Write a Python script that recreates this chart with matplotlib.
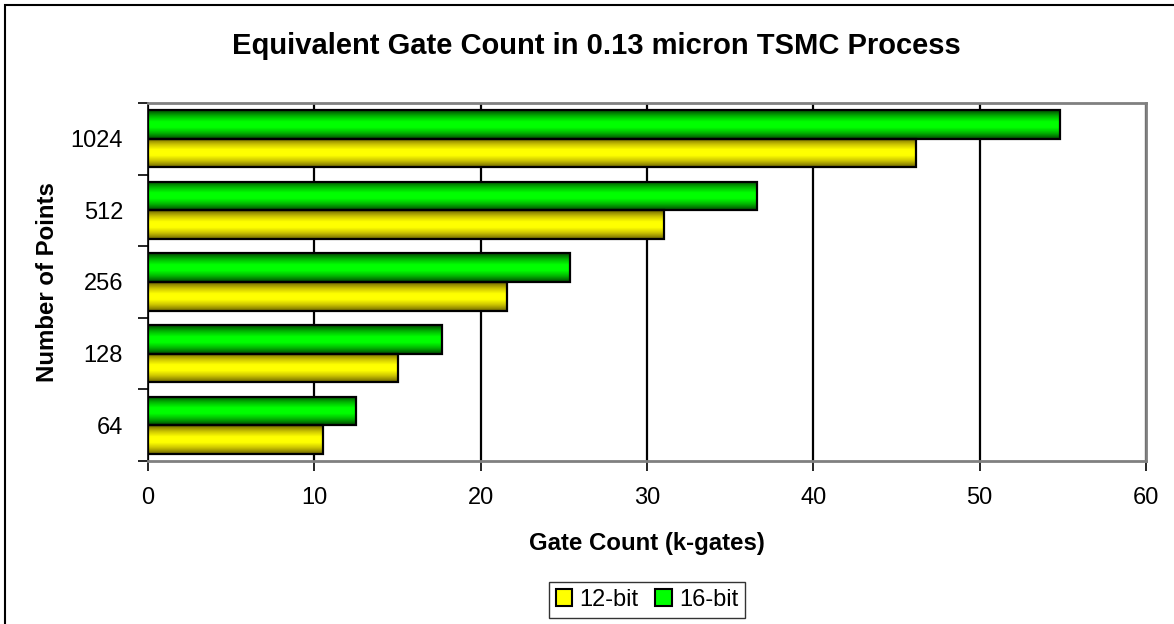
import numpy as np
import matplotlib
matplotlib.use('Agg')
import matplotlib.pyplot as plt
from matplotlib.colors import LinearSegmentedColormap
from matplotlib.patches import Rectangle, Patch

plt.rcParams['font.family'] = ['Liberation Sans', 'DejaVu Sans']

# data
categories = ['64', '128', '256', '512', '1024']
gates_12bit = [10.5, 15.0, 21.6, 31.0, 46.2]
gates_16bit = [12.5, 17.7, 25.4, 36.6, 54.8]
x_ticks = [0, 10, 20, 30, 40, 50, 60]

# cylinder-like shading for the bars: dark at the edges, bright in the middle
yellow_cmap = LinearSegmentedColormap.from_list(
    'yel', ['#6e6600', '#c8c000', '#ffff00', '#ffff00', '#c8c000', '#6e6600'])
green_cmap = LinearSegmentedColormap.from_list(
    'grn', ['#004a00', '#00b400', '#00ff00', '#00ff00', '#00b400', '#004a00'])

fig = plt.figure(figsize=(11.74, 6.24), dpi=100)
ax = fig.add_axes([148 / 1174, 1 - 461 / 624, (1146 - 148) / 1174, (461 - 103) / 624])

y = np.arange(len(categories))
h = 0.4
bars12 = ax.barh(y - h / 2, gates_12bit, height=h, facecolor='none',
                 edgecolor='black', linewidth=1.6, zorder=4)
bars16 = ax.barh(y + h / 2, gates_16bit, height=h, facecolor='none',
                 edgecolor='black', linewidth=1.6, zorder=4)

# fill each bar with a vertical gradient
grad = np.linspace(0, 1, 64).reshape(-1, 1)
for bars, cmap in [(bars12, yellow_cmap), (bars16, green_cmap)]:
    for b in bars:
        x0, y0 = b.get_x(), b.get_y()
        ax.imshow(grad, cmap=cmap, aspect='auto', interpolation='bilinear',
                  extent=(x0, x0 + b.get_width(), y0, y0 + b.get_height()),
                  zorder=3)

ax.set_xlim(0, 60)
ax.set_ylim(-0.5, len(categories) - 0.5)
ax.set_xticks(x_ticks)
ax.set_xticklabels([str(t) for t in x_ticks], fontsize=17)
ax.set_yticks(y)
ax.set_yticklabels(categories, fontsize=17)
ax.tick_params(axis='y', length=0, pad=18)
ax.set_yticks(np.arange(len(categories) + 1) - 0.5, minor=True)
ax.tick_params(axis='y', which='minor', length=7, width=1.2, direction='out')
ax.tick_params(axis='x', length=7, width=1.2, direction='out', pad=12)

# vertical gridlines
ax.grid(axis='x', color='black', linewidth=1.6, zorder=1)
ax.set_axisbelow(True)

for side in ['top', 'right', 'bottom']:
    ax.spines[side].set_color('#808080')
    ax.spines[side].set_linewidth(2)
ax.spines['left'].set_color('black')
ax.spines['left'].set_linewidth(1.2)

ax.set_xlabel('Gate Count (k-gates)', fontsize=17.3, fontweight='bold', labelpad=16)
ax.set_ylabel('Number of Points', fontsize=17.3, fontweight='bold', labelpad=8)
fig.text(596 / 1174, 1 - 46 / 624, 'Equivalent Gate Count in 0.13 micron TSMC Process',
         fontsize=21, fontweight='bold', ha='center', va='center')

handles = [Patch(facecolor='#ffff00', edgecolor='black', linewidth=1.5, label='12-bit'),
           Patch(facecolor='#00ff00', edgecolor='black', linewidth=1.5, label='16-bit')]
leg = fig.legend(handles=handles, loc='center', bbox_to_anchor=(647 / 1174, 1 - 600 / 624),
                 ncol=2, fontsize=17, frameon=True, fancybox=False, edgecolor='black',
                 handlelength=0.7, handleheight=0.7, handletextpad=0.3,
                 columnspacing=0.7, borderpad=0.3, borderaxespad=0)
leg.get_frame().set_linewidth(1.0)

# outer chart frame (cut off at right and bottom like the reference)
fig.patches.append(Rectangle((5 / 1174, -0.1), 2, 1 - 5 / 624 + 0.1,
                             transform=fig.transFigure, fill=False,
                             edgecolor='black', linewidth=1.5))

fig.savefig('out.png', dpi=100)
